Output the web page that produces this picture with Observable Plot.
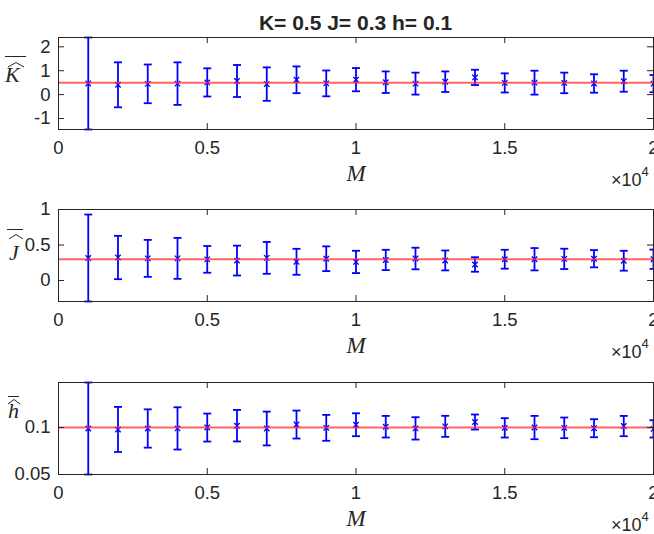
<!DOCTYPE html>
<html>
<head>
<meta charset="utf-8">
<script src="https://cdn.jsdelivr.net/npm/d3@7"></script>
<script src="https://cdn.jsdelivr.net/npm/@observablehq/plot@0.6"></script>
<style>
  html, body { margin: 0; padding: 0; background: #fff; overflow: hidden; }
  #fig { position: relative; width: 654px; height: 534px; color: #262626;
         font-family: "Liberation Sans", Arial, sans-serif; }
  .panel { position: absolute; left: 0; }
  .title { position: absolute; left: 105.5px; width: 500px; top: 12px; text-align: center;
           font-weight: bold; font-size: 21px; line-height: 21px; white-space: nowrap; }
  .ylab { position: absolute; font-family: "Liberation Serif", "Times New Roman", serif;
          font-style: italic; font-size: 22px; line-height: 22px; }
  .bar { position: absolute; border-top: 1.2px solid #262626; height: 0; }
  .hat { position: absolute; overflow: visible; }
</style>
</head>
<body>
<div id="fig"></div>
<script>
// Sample sizes M at which the estimators were evaluated
const M = [1000, 2000, 3000, 4000, 5000, 6000, 7000, 8000, 9000, 10000,
           11000, 12000, 13000, 14000, 15000, 16000, 17000, 18000, 19000, 20000];

// True parameter values
const trueK = 0.5, trueJ = 0.3, trueH = 0.1;

// Mean estimate of K and its error-bar half-width
const kMean = [0.465, 0.41, 0.45, 0.46, 0.51, 0.57, 0.44, 0.62, 0.47, 0.625,
               0.52, 0.46, 0.54, 0.72, 0.49, 0.50, 0.49, 0.465, 0.56, 0.46];
const kErr  = [1.925, 0.94, 0.81, 0.89, 0.59, 0.67, 0.70, 0.56, 0.54, 0.485,
               0.45, 0.46, 0.43, 0.32, 0.40, 0.50, 0.43, 0.385, 0.44, 0.36];

// Mean estimate of J and its error-bar half-width
const jMean = [0.317, 0.324, 0.312, 0.312, 0.298, 0.281, 0.319, 0.264, 0.307, 0.262,
               0.290, 0.310, 0.283, 0.226, 0.300, 0.300, 0.305, 0.307, 0.279, 0.300];
const jErr  = [0.612, 0.305, 0.260, 0.288, 0.188, 0.210, 0.224, 0.183, 0.174, 0.157,
               0.143, 0.152, 0.140, 0.102, 0.133, 0.157, 0.143, 0.121, 0.140, 0.136];

// Mean estimate of h and its error-bar half-width
const hMean = [0.0990, 0.0980, 0.0990, 0.0991, 0.1000, 0.1020, 0.0990, 0.1032, 0.0997, 0.1030,
               0.1009, 0.0991, 0.1013, 0.1059, 0.0997, 0.1000, 0.0997, 0.0993, 0.1016, 0.0986];
const hErr  = [0.0490, 0.0240, 0.0204, 0.0225, 0.0149, 0.0168, 0.0180, 0.0149, 0.0138, 0.0122,
               0.0115, 0.0119, 0.0112, 0.0080, 0.0103, 0.0124, 0.0110, 0.0096, 0.0108, 0.0092];

// Axis limits and tick values
const xDomain = [0, 20000];
const xTicks = [0, 5000, 10000, 15000, 20000];
const kDomain = [-1.46, 2.39], kTicks = [-1, 0, 1, 2];
const jDomain = [-0.295, 1.0], jTicks = [0, 0.5, 1];
const hDomain = [0.05, 0.148], hTicks = [0.05, 0.1];

const titleText = "K= 0.5 J= 0.3 h= 0.1";
const xLabel = "M";

const ink = "#262626";
const blue = "#0000ff";

// horizontal cap for the error bars; half-width follows the dot radius
const cap = {
  draw(context, size) {
    const w = Math.sqrt(size / Math.PI);
    context.moveTo(-w, 0);
    context.lineTo(w, 0);
  }
};

const plotW = 595, plotH = 92, mTop = 10;

function panel(mean, err, truth, domain, yTicks, height) {
  const rows = M.map((m, i) => ({m, mean: mean[i], lo: mean[i] - err[i], hi: mean[i] + err[i]}));
  return Plot.plot({
    width: 654,
    height,
    marginTop: mTop,
    marginBottom: height - mTop - plotH,
    marginLeft: 58,
    marginRight: 1,
    style: {fontFamily: '"Liberation Sans", Arial, sans-serif', fontSize: "18.5px",
            color: ink, background: "transparent", overflow: "visible"},
    x: {domain: xDomain},
    y: {domain},
    marks: [
      Plot.ruleX(rows, {x: "m", y1: "lo", y2: "hi", stroke: blue, strokeWidth: 1.8}),
      Plot.dot(rows, {x: "m", y: "lo", symbol: cap, r: 4, fill: "none", stroke: blue, strokeWidth: 1.8}),
      Plot.dot(rows, {x: "m", y: "hi", symbol: cap, r: 4, fill: "none", stroke: blue, strokeWidth: 1.8}),
      Plot.dot(rows, {x: "m", y: "mean", symbol: "times", r: 2.6, stroke: blue, strokeWidth: 1.3}),
      Plot.ruleY([truth], {stroke: "#ff3030", strokeWidth: 2, strokeOpacity: 0.75}),
      Plot.frame({stroke: ink}),
      // inward ticks on all four sides
      Plot.tickX(xTicks, {x: d => d, insetTop: plotH - 6, stroke: ink}),
      Plot.tickX(xTicks, {x: d => d, insetBottom: plotH - 6, stroke: ink}),
      Plot.tickY(yTicks, {y: d => d, insetRight: plotW - 6, stroke: ink}),
      Plot.tickY(yTicks, {y: d => d, insetLeft: plotW - 6, stroke: ink}),
      Plot.axisX(xTicks, {tickSize: 0, tickPadding: 11, tickFormat: d => String(d / 10000), label: null}),
      Plot.axisY(yTicks, {tickSize: 0, tickPadding: 8, tickFormat: d => String(d), label: null}),
      Plot.text([xLabel], {frameAnchor: "bottom", lineAnchor: "middle", dy: 44,
                           fontFamily: '"Liberation Serif", serif',
                           fontStyle: "italic", fontSize: 23, fill: ink}),
      Plot.text(["×10"], {frameAnchor: "bottom-right", lineAnchor: "middle", textAnchor: "end",
                          dx: -12, dy: 51, fontSize: 18, fill: ink}),
      Plot.text(["4"], {frameAnchor: "bottom-right", lineAnchor: "middle", textAnchor: "start",
                        dx: -12, dy: 42, fontSize: 13, fill: ink})
    ]
  });
}

const fig = document.getElementById("fig");

const title = document.createElement("div");
title.className = "title";
title.textContent = titleText;
fig.appendChild(title);

const panels = [
  {svg: panel(kMean, kErr, trueK, kDomain, kTicks, 170), top: 27},
  {svg: panel(jMean, jErr, trueJ, jDomain, jTicks, 170), top: 199},
  {svg: panel(hMean, hErr, trueH, hDomain, hTicks, 162), top: 372}
];
for (const p of panels) {
  const wrap = document.createElement("div");
  wrap.className = "panel";
  wrap.style.top = p.top + "px";
  wrap.appendChild(p.svg);
  fig.appendChild(wrap);
}

// y labels: overlined, hatted italic letters
function ylab(letter, o) {
  const bar = document.createElement("div");
  bar.className = "bar";
  bar.style.left = o.bar[0] + "px";
  bar.style.width = (o.bar[1] - o.bar[0]) + "px";
  bar.style.top = o.bar[2] + "px";
  fig.appendChild(bar);

  const ns = "http://www.w3.org/2000/svg";
  const hat = document.createElementNS(ns, "svg");
  hat.setAttribute("class", "hat");
  const w = o.hat[1] - o.hat[0], h = o.hat[3] - o.hat[2];
  hat.setAttribute("width", w);
  hat.setAttribute("height", h);
  hat.style.left = o.hat[0] + "px";
  hat.style.top = o.hat[2] + "px";
  const path = document.createElementNS(ns, "polyline");
  path.setAttribute("points", `0,${h} ${w / 2},0.5 ${w},${h}`);
  path.setAttribute("fill", "none");
  path.setAttribute("stroke", ink);
  path.setAttribute("stroke-width", "1");
  hat.appendChild(path);
  fig.appendChild(hat);

  const t = document.createElement("div");
  t.className = "ylab";
  t.textContent = letter;
  t.style.left = o.x + "px";
  t.style.top = (o.baseline - 18.4) + "px";
  fig.appendChild(t);
}
ylab("K", {x: 5, baseline: 82, bar: [5, 26, 56], hat: [8, 24, 62, 67]});
ylab("J", {x: 9, baseline: 260, bar: [7, 23, 229], hat: [9, 23, 234, 239]});
ylab("h", {x: 8, baseline: 418, bar: [8, 19, 396], hat: [8, 20, 399, 404]});
</script>
</body>
</html>
